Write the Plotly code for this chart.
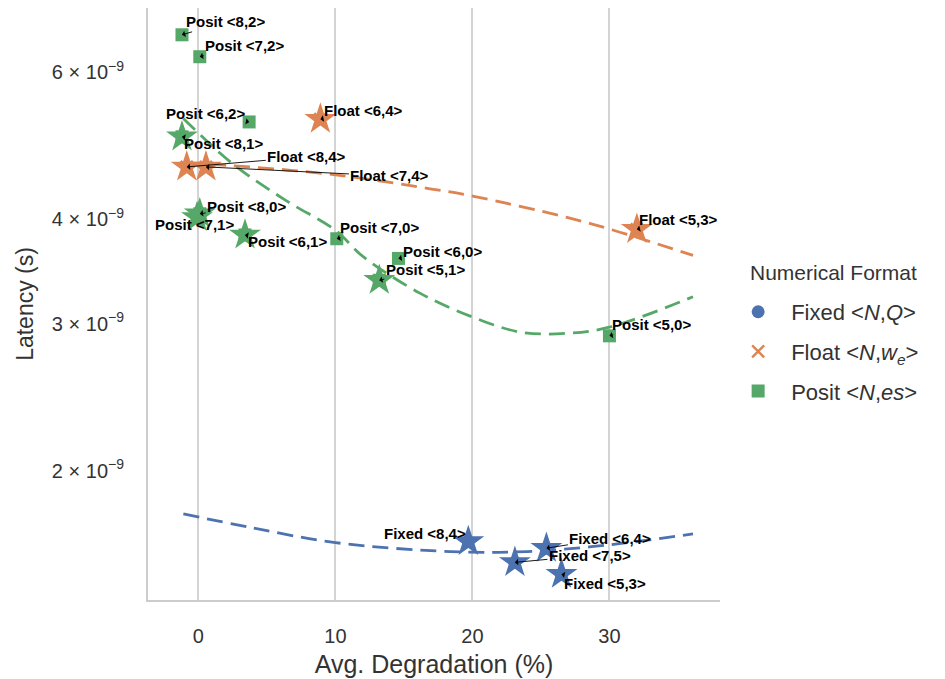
import plotly.graph_objects as go
import numpy as np

# ---------------- data ----------------
fixed_labels = ["Fixed <8,4>", "Fixed <6,4>", "Fixed <7,5>", "Fixed <5,3>"]
fixed_deg = [19.7, 25.4, 23.1, 26.5]
fixed_lat = [1.645e-9, 1.615e-9, 1.553e-9, 1.503e-9]
fixed_star = [True, True, True, True]

float_labels = ["Float <6,4>", "Float <8,4>", "Float <7,4>", "Float <5,3>"]
float_deg = [8.9, -0.85, 0.55, 32.0]
float_lat = [5.27e-9, 4.62e-9, 4.62e-9, 3.89e-9]
float_star = [True, True, True, True]

posit_labels = ["Posit <8,2>", "Posit <7,2>", "Posit <6,2>", "Posit <8,1>", "Posit <8,0>",
                "Posit <7,1>", "Posit <6,1>", "Posit <7,0>", "Posit <6,0>", "Posit <5,1>", "Posit <5,0>"]
posit_deg = [-1.2, 0.1, 3.7, -1.2, 0.1, -0.1, 3.4, 10.1, 14.6, 13.2, 30.0]
posit_lat = [6.65e-9, 6.26e-9, 5.23e-9, 5.02e-9, 4.06e-9, 4.02e-9, 3.83e-9, 3.79e-9, 3.59e-9, 3.38e-9, 2.90e-9]
posit_star = [False, False, False, True, True, True, True, False, False, True, False]

# trend curves
fixed_fit_x = [-1.1, 3.8, 10.0, 18.4, 24.0, 30.0, 36.1]
fixed_fit_y = [1.775e-9, 1.71e-9, 1.64e-9, 1.60e-9, 1.60e-9, 1.63e-9, 1.68e-9]
float_fit_x = [-0.9, 2.1, 10.0, 16.9, 20.1, 26.9, 30.3, 36.1]
float_fit_y = [4.66e-9, 4.64e-9, 4.52e-9, 4.35e-9, 4.26e-9, 4.02e-9, 3.88e-9, 3.62e-9]
posit_fit_x = [-1.1, 2.5, 6.4, 10.0, 12.0, 16.2, 20.1, 23.5, 26.9, 30.0, 36.1]
posit_fit_y = [5.28e-9, 4.66e-9, 4.21e-9, 3.88e-9, 3.61e-9, 3.26e-9, 3.05e-9, 2.93e-9, 2.92e-9, 2.97e-9, 3.23e-9]

# annotation text offsets (pixels) per label
label_offsets = {
    "Posit <8,2>": (44, -13), "Posit <7,2>": (45, -11), "Posit <6,2>": (-44, -8),
    "Float <6,4>": (43, -9), "Posit <8,1>": (42, 7), "Float <8,4>": (120, -10),
    "Float <7,4>": (184, 9), "Posit <8,0>": (47, -7), "Posit <7,1>": (-3, 7),
    "Posit <6,1>": (42, 7), "Posit <7,0>": (43, -11), "Posit <6,0>": (44, -7),
    "Posit <5,1>": (46, -11), "Float <5,3>": (42, -10), "Posit <5,0>": (42, -11),
    "Fixed <8,4>": (-43, -8), "Fixed <6,4>": (64, -10), "Fixed <7,5>": (75, -7),
    "Fixed <5,3>": (44, 9),
}

y_tickvals = [2e-9, 3e-9, 4e-9, 6e-9]
y_ticktext = ["2 × 10<sup>−9</sup>", "3 × 10<sup>−9</sup>", "4 × 10<sup>−9</sup>", "6 × 10<sup>−9</sup>"]
x_tickvals = [0, 10, 20, 30]

BLUE, ORANGE, GREEN = "#4C72B0", "#DD8452", "#55A868"
FONT = "Liberation Sans, Arial, sans-serif"

groups = [
    ("Fixed &lt;<i>N</i>,<i>Q</i>&gt;", fixed_labels, fixed_deg, fixed_lat, fixed_star, BLUE, "circle", fixed_fit_x, fixed_fit_y),
    ("Float &lt;<i>N</i>,<i>w<sub>e</sub></i>&gt;", float_labels, float_deg, float_lat, float_star, ORANGE, "x-thin-open", float_fit_x, float_fit_y),
    ("Posit &lt;<i>N</i>,<i>es</i>&gt;", posit_labels, posit_deg, posit_lat, posit_star, GREEN, "square", posit_fit_x, posit_fit_y),
]

fig = go.Figure()

# trend lines
for name, labs, xs, ys, st, col, sym, fx, fy in groups:
    fig.add_trace(go.Scatter(x=fx, y=fy, mode="lines", line=dict(color=col, width=2.8, dash="16px,8px", shape="spline"),
                             showlegend=False, hoverinfo="skip"))

# base markers
for i, (name, labs, xs, ys, st, col, sym, fx, fy) in enumerate(groups):
    if sym == "x-thin-open":
        mk = dict(symbol=sym, size=12, color=col, line=dict(color=col, width=2.4))
    else:
        mk = dict(symbol=sym, size=13, color=col, line=dict(width=0))
    fig.add_trace(go.Scatter(x=xs, y=ys, mode="markers", name=name, marker=mk,
                             legendgroup=f"g{i}", text=labs))

# pareto stars
for name, labs, xs, ys, st, col, sym, fx, fy in groups:
    sx = [x for x, s in zip(xs, st) if s]
    sy = [y for y, s in zip(ys, st) if s]
    fig.add_trace(go.Scatter(x=sx, y=sy, mode="markers", showlegend=False,
                             marker=dict(symbol="star", size=24, color=col, line=dict(width=0))))

# annotations
for name, labs, xs, ys, st, col, sym, fx, fy in groups:
    for lab, x, y in zip(labs, xs, ys):
        ax, ay = label_offsets[lab]
        fig.add_annotation(x=x, y=np.log10(y), text="<b>" + lab.replace("<", "&lt;").replace(">", "&gt;") + "</b>",
                           showarrow=True, ax=ax, ay=ay, arrowhead=1, arrowsize=1.2, arrowwidth=0.9,
                           arrowcolor="black", font=dict(size=15, color="black", family=FONT))

# legend title as text
fig.add_annotation(xref="paper", yref="paper", x=1.049, y=0.5524, xanchor="left", yanchor="middle",
                   text="Numerical Format", showarrow=False, font=dict(size=21, color="#333333", family=FONT))

fig.update_layout(
    width=937, height=671,
    margin=dict(l=140, r=225, t=0, b=79),
    plot_bgcolor="white", paper_bgcolor="white",
    font=dict(family=FONT, color="#333333", size=19),
    legend=dict(x=1.009, y=0.522, xanchor="left", yanchor="top", tracegroupgap=8, itemwidth=56,
                font=dict(size=22, color="#333333"), bgcolor="rgba(0,0,0,0)"),
    xaxis=dict(range=[-3.68, 38.07], tickvals=x_tickvals, showgrid=True, gridcolor="#d4d4d4", gridwidth=1.6,
               zeroline=False, showline=True, linecolor="#cccccc", linewidth=2, ticks="",
               ticklabelstandoff=17, tickfont=dict(size=20),
               title=dict(text="Avg. Degradation (%)", font=dict(size=25), standoff=9)),
    yaxis=dict(type="log", range=[np.log10(1.40e-9), np.log10(7.16e-9)], tickvals=y_tickvals, ticktext=y_ticktext,
               showgrid=False, zeroline=False, showline=True, linecolor="#cccccc", linewidth=2, ticks="",
               ticklabelstandoff=18, tickfont=dict(size=20),
               title=dict(text="Latency (s)", font=dict(size=23), standoff=12)),
)

fig.write_html("out.html")
